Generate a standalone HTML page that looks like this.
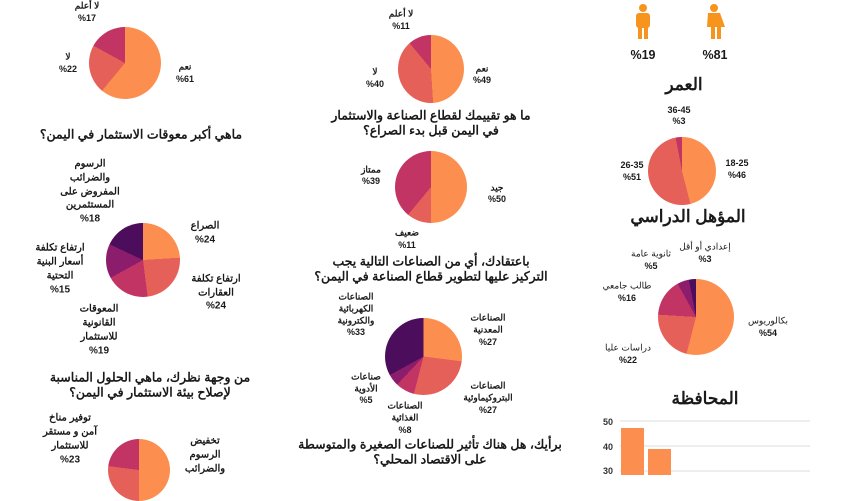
<!DOCTYPE html>
<html><head><meta charset="utf-8"><style>
body{margin:0;width:845px;height:475px;background:#fff;overflow:hidden;position:relative;font-family:"Liberation Sans","Noto Sans CJK SC",sans-serif;color:#1a1a1a}
.p{position:absolute;border-radius:50%}
.t{position:absolute;transform:translate(-50%,-50%);white-space:nowrap;text-align:center;direction:rtl;font-weight:bold}
.s{font-size:9px}.m{font-size:10px}.q{font-size:12.5px}.h{font-size:17px}
</style></head><body>
<!-- pies -->
<div class="p" style="left:89px;top:27px;width:72px;height:72px;background:conic-gradient(#fc8f4f 0 61%,#e6605a 61% 83%,#c23463 83% 100%)"></div>
<div class="p" style="left:398px;top:35px;width:66px;height:68px;background:conic-gradient(#fc8f4f 0 49%,#e6605a 49% 89%,#c23463 89% 100%)"></div>
<div class="p" style="left:395px;top:151px;width:72px;height:72px;background:conic-gradient(#fc8f4f 0 50%,#e6605a 50% 61%,#c23463 61% 100%)"></div>
<div class="p" style="left:385px;top:318px;width:77px;height:77px;background:conic-gradient(#fc8f4f 0 27%,#e6605a 27% 54%,#c23463 54% 62%,#8c1c6c 62% 67%,#4c0d5c 67% 100%)"></div>
<div class="p" style="left:106px;top:223px;width:74px;height:74px;background:conic-gradient(#fc8f4f 0 24%,#e6605a 24% 48%,#c23463 48% 67%,#8c1c6c 67% 82%,#4c0d5c 82% 100%)"></div>
<div class="p" style="left:108px;top:439px;width:62px;height:62px;background:conic-gradient(#fc8f4f 0 50%,#e6605a 50% 77%,#c23463 77% 100%)"></div>
<div class="p" style="left:648px;top:137px;width:68px;height:68px;background:conic-gradient(#fc8f4f 0 46%,#e6605a 46% 97%,#c23463 97% 100%)"></div>
<div class="p" style="left:658px;top:279px;width:76px;height:76px;background:conic-gradient(#fc8f4f 0 54%,#e6605a 54% 76%,#c23463 76% 92%,#8c1c6c 92% 97%,#4c0d5c 97% 100%)"></div>
<!-- people icons -->
<svg style="position:absolute;left:630px;top:3px" width="100" height="40">
<g fill="#f7941d"><circle cx="13" cy="5" r="4"/><rect x="6" y="10" width="14" height="15" rx="3"/><rect x="8" y="22" width="4" height="14"/><rect x="14" y="22" width="4" height="14"/>
<circle cx="93" cy="5" r="4" transform="translate(-9,0)"/><path d="M78 10h12l5 14h-4v12h-4v-12h-2v12h-4v-12h-4z"/></g></svg>
<div class="t q" style="left:643px;top:55px">%19</div><div class="t q" style="left:715px;top:55px">%81</div>
<div class="t h" style="left:684px;top:85px">العمر</div>
<div class="t h" style="left:688px;top:217px">المؤهل الدراسي</div>
<div class="t h" style="left:705px;top:399px">المحافظة</div>
<!-- bar chart -->
<svg style="position:absolute;left:595px;top:410px" width="250" height="65">
<g stroke="#ddd"><line x1="25" y1="11" x2="215" y2="11"/><line x1="25" y1="36" x2="215" y2="36"/><line x1="25" y1="61" x2="215" y2="61"/></g>
<g font-size="9" font-weight="bold" fill="#333" font-family="Liberation Sans"><text x="8" y="15">50</text><text x="8" y="40">40</text><text x="8" y="64">30</text></g>
<rect x="26" y="18" width="23" height="50" fill="#fc8f4f"/><rect x="53" y="39" width="23" height="30" fill="#fc8f4f"/></svg>
<!-- left column -->
<div class="t s" style="left:87px;top:6px">لا أعلم</div><div class="t s" style="left:87px;top:18px">%17</div>
<div class="t s" style="left:68px;top:57px">لا</div><div class="t s" style="left:68px;top:69px">%22</div>
<div class="t s" style="left:185px;top:67px">نعم</div><div class="t s" style="left:185px;top:79px">%61</div>
<div class="t q" style="left:141px;top:134px">ماهي أكبر معوقات الاستثمار في اليمن؟</div>
<div class="t m" style="left:90px;top:164px">الرسوم</div><div class="t m" style="left:90px;top:178px">والضرائب</div><div class="t m" style="left:90px;top:192px">المفروض على</div><div class="t m" style="left:90px;top:205px">المستثمرين</div><div class="t m" style="left:90px;top:219px">%18</div>
<div class="t m" style="left:205px;top:226px">الصراع</div><div class="t m" style="left:205px;top:240px">%24</div>
<div class="t m" style="left:216px;top:279px">ارتفاع تكلفة</div><div class="t m" style="left:216px;top:293px">العقارات</div><div class="t m" style="left:216px;top:306px">%24</div>
<div class="t m" style="left:60px;top:248px">ارتفاع تكلفة</div><div class="t m" style="left:60px;top:262px">أسعار البنية</div><div class="t m" style="left:60px;top:276px">التحتية</div><div class="t m" style="left:60px;top:290px">%15</div>
<div class="t m" style="left:99px;top:309px">المعوقات</div><div class="t m" style="left:99px;top:323px">القانونية</div><div class="t m" style="left:99px;top:337px">للاستثمار</div><div class="t m" style="left:99px;top:351px">%19</div>
<div class="t q" style="left:150px;top:377px">من وجهة نظرك، ماهي الحلول المناسبة</div><div class="t q" style="left:150px;top:392px">لإصلاح بيئة الاستثمار في اليمن؟</div>
<div class="t m" style="left:70px;top:418px">توفير مناخ</div><div class="t m" style="left:70px;top:432px">آمن و مستقر</div><div class="t m" style="left:70px;top:446px">للاستثمار</div><div class="t m" style="left:70px;top:460px">%23</div>
<div class="t m" style="left:205px;top:441px">تخفيض</div><div class="t m" style="left:205px;top:455px">الرسوم</div><div class="t m" style="left:205px;top:469px">والضرائب</div>
<!-- middle column -->
<div class="t s" style="left:401px;top:14px">لا أعلم</div><div class="t s" style="left:401px;top:26px">%11</div>
<div class="t s" style="left:375px;top:72px">لا</div><div class="t s" style="left:375px;top:84px">%40</div>
<div class="t s" style="left:482px;top:69px">نعم</div><div class="t s" style="left:482px;top:80px">%49</div>
<div class="t q" style="left:431px;top:115px">ما هو تقييمك لقطاع الصناعة والاستثمار</div><div class="t q" style="left:431px;top:130px">في اليمن قبل بدء الصراع؟</div>
<div class="t s" style="left:371px;top:170px">ممتاز</div><div class="t s" style="left:371px;top:181px">%39</div>
<div class="t s" style="left:497px;top:188px">جيد</div><div class="t s" style="left:497px;top:199px">%50</div>
<div class="t s" style="left:407px;top:233px">ضعيف</div><div class="t s" style="left:407px;top:245px">%11</div>
<div class="t q" style="left:431px;top:261px">باعتقادك، أي من الصناعات التالية يجب</div><div class="t q" style="left:431px;top:276px">التركيز عليها لتطوير قطاع الصناعة في اليمن؟</div>
<div class="t s" style="left:356px;top:297px">الصناعات</div><div class="t s" style="left:356px;top:309px">الكهربائية</div><div class="t s" style="left:356px;top:321px">والكترونية</div><div class="t s" style="left:356px;top:332px">%33</div>
<div class="t s" style="left:488px;top:318px">الصناعات</div><div class="t s" style="left:488px;top:330px">المعدنية</div><div class="t s" style="left:488px;top:342px">%27</div>
<div class="t s" style="left:488px;top:386px">الصناعات</div><div class="t s" style="left:488px;top:398px">البتروكيماوئية</div><div class="t s" style="left:488px;top:410px">%27</div>
<div class="t s" style="left:405px;top:406px">الصناعات</div><div class="t s" style="left:405px;top:418px">الغذائية</div><div class="t s" style="left:405px;top:430px">%8</div>
<div class="t s" style="left:366px;top:377px">صناعات</div><div class="t s" style="left:366px;top:389px">الأدوية</div><div class="t s" style="left:366px;top:400px">%5</div>
<div class="t q" style="left:430px;top:444px">برأيك، هل هناك تأثير للصناعات الصغيرة والمتوسطة</div><div class="t q" style="left:430px;top:459px">على الاقتصاد المحلي؟</div>
<!-- right labels -->
<div class="t s" style="left:679px;top:110px">36-45</div><div class="t s" style="left:679px;top:121px">%3</div>
<div class="t s" style="left:632px;top:165px">26-35</div><div class="t s" style="left:632px;top:177px">%51</div>
<div class="t s" style="left:737px;top:163px">18-25</div><div class="t s" style="left:737px;top:175px">%46</div>
<div class="t s" style="left:705px;top:247px;font-weight:normal">إعدادي أو أقل</div><div class="t s" style="left:705px;top:259px">%3</div>
<div class="t s" style="left:651px;top:254px;font-weight:normal">ثانوية عامة</div><div class="t s" style="left:651px;top:266px">%5</div>
<div class="t s" style="left:627px;top:286px;font-weight:normal">طالب جامعي</div><div class="t s" style="left:627px;top:298px">%16</div>
<div class="t s" style="left:768px;top:321px;font-weight:normal">بكالوريوس</div><div class="t s" style="left:768px;top:333px">%54</div>
<div class="t s" style="left:628px;top:348px;font-weight:normal">دراسات عليا</div><div class="t s" style="left:628px;top:360px">%22</div>
</body></html>
